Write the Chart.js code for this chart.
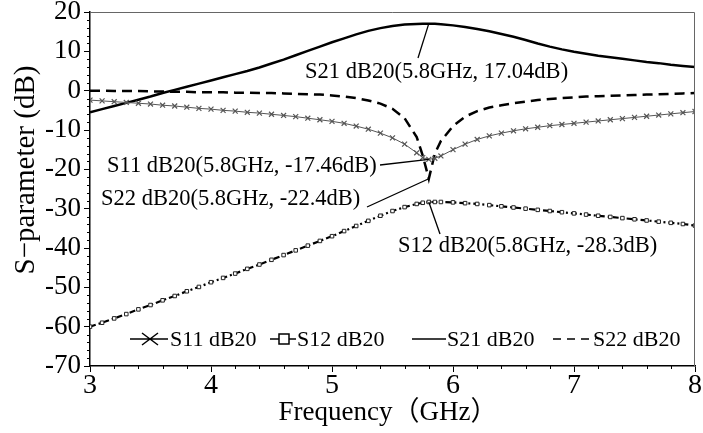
<!DOCTYPE html>
<html>
<head>
<meta charset="utf-8">
<script src="https://cdn.jsdelivr.net/npm/chart.js@4/dist/chart.umd.min.js"></script>
<style>
  html, body { margin: 0; padding: 0; background: #fff; }
  #sChart { display: block; }
</style>
</head>
<body>
<canvas id="sChart" width="703" height="433"></canvas>
<script>
// frequency points (GHz)
const freqs = [3.0, 3.1, 3.2, 3.3, 3.4, 3.5, 3.6, 3.7, 3.8, 3.9,
  4.0, 4.1, 4.2, 4.3, 4.4, 4.5, 4.6, 4.7, 4.8, 4.9,
  5.0, 5.1, 5.2, 5.3, 5.4, 5.5, 5.6, 5.7, 5.75, 5.8, 5.85,
  5.9, 6.0, 6.1, 6.2, 6.3, 6.4, 6.5, 6.6, 6.7, 6.8,
  6.9, 7.0, 7.1, 7.2, 7.3, 7.4, 7.5, 7.6, 7.7, 7.8,
  7.9, 8.0];

const s11 = [-2.4, -2.6, -2.8, -3.0, -3.2, -3.4, -3.7, -3.9, -4.2, -4.5,
  -4.7, -5.0, -5.2, -5.5, -5.7, -6.0, -6.3, -6.6, -7.0, -7.4,
  -7.8, -8.3, -9.0, -9.8, -10.8, -12.0, -13.6, -15.8, -17.0, -17.46, -17.2,
  -16.6, -15.0, -13.6, -12.4, -11.5, -10.8, -10.2, -9.7, -9.3, -8.9,
  -8.6, -8.3, -8.0, -7.7, -7.4, -7.1, -6.8, -6.5, -6.2, -5.9,
  -5.6, -5.3];

const s12 = [-60.0, -59.0, -57.9, -56.8, -55.6, -54.5, -53.3, -52.2, -51.0, -49.9,
  -48.7, -47.6, -46.5, -45.3, -44.2, -43.0, -41.8, -40.6, -39.4, -38.2,
  -37.0, -35.7, -34.4, -33.1, -31.8, -30.6, -29.6, -28.8, -28.5, -28.3, -28.3,
  -28.3, -28.4, -28.6, -28.8, -29.1, -29.4, -29.7, -30.0, -30.3, -30.6,
  -30.9, -31.2, -31.5, -31.8, -32.1, -32.4, -32.7, -33.0, -33.3, -33.6,
  -33.9, -34.3];

const s21 = [-5.5, -4.7, -3.9, -3.1, -2.3, -1.5, -0.6, 0.2, 1.0, 1.8,
  2.6, 3.4, 4.2, 5.0, 5.9, 6.9, 7.9, 9.0, 10.1, 11.2,
  12.3, 13.3, 14.3, 15.2, 15.9, 16.45, 16.8, 16.98, 17.03, 17.04, 17.02,
  16.9, 16.6, 16.2, 15.7, 15.1, 14.4, 13.7, 12.9, 12.0, 11.2,
  10.5, 9.9, 9.4, 8.9, 8.5, 8.1, 7.7, 7.3, 7.0, 6.6,
  6.3, 6.0];

const s22 = [0.0, 0.0, -0.1, -0.1, -0.1, -0.2, -0.2, -0.3, -0.3, -0.4,
  -0.4, -0.4, -0.5, -0.5, -0.6, -0.6, -0.7, -0.8, -0.9, -1.0,
  -1.2, -1.5, -1.9, -2.5, -3.3, -4.6, -7.0, -11.8, -16.5, -22.4, -16.0,
  -12.8, -9.0, -6.6, -5.2, -4.3, -3.7, -3.2, -2.8, -2.4, -2.1,
  -1.9, -1.7, -1.5, -1.4, -1.3, -1.2, -1.1, -1.0, -0.9, -0.8,
  -0.7, -0.6];

const seriesNames = ['S11 dB20', 'S12 dB20', 'S21 dB20', 'S22 dB20'];
const markFreq = 5.8;

const xTicks = [3, 4, 5, 6, 7, 8];
const yTicks = [-70, -60, -50, -40, -30, -20, -10, 0, 10, 20];

const serif = '"Liberation Serif", "Times New Roman", "Noto Sans CJK SC", serif';

function toPoints(values) {
    return freqs.map((f, i) => ({ x: f, y: values[i] }));
}

// marker label placement (text anchor + leader line start)
const notes = [
    { name: seriesNames[2], values: s21, tx: 305, ty: 78, lx: 418, ly: 58 },
    { name: seriesNames[0], values: s11, tx: 107, ty: 172, lx: 380, ly: 165 },
    { name: seriesNames[3], values: s22, tx: 101, ty: 205, lx: 367, ly: 207 },
    { name: seriesNames[1], values: s12, tx: 398, ty: 252, lx: 440, ly: 234 }
];

const decorPlugin = {
    id: 'decor',
    afterDraw(chart) {
        const ctx = chart.ctx;
        const a = chart.chartArea;
        const xs = chart.scales.x;
        const ys = chart.scales.y;
        ctx.save();

        // top / right frame
        ctx.strokeStyle = '#666';
        ctx.lineWidth = 1;
        ctx.beginPath();
        ctx.moveTo(a.left, a.top + 0.5);
        ctx.lineTo(a.right - 0.5, a.top + 0.5);
        ctx.lineTo(a.right - 0.5, a.bottom);
        ctx.stroke();

        // minor ticks
        ctx.strokeStyle = '#000';
        ctx.beginPath();
        for (let v = -70; v <= 20; v += 2) {
            if (v % 10 === 0) continue;
            const py = Math.round(ys.getPixelForValue(v)) + 0.5;
            ctx.moveTo(a.left - 3, py);
            ctx.lineTo(a.left, py);
        }
        for (let i = 0; i <= 25; i++) {
            if (i % 5 === 0) continue;
            const px = Math.round(xs.getPixelForValue(3 + i * 0.2)) + 0.5;
            ctx.moveTo(px, a.bottom);
            ctx.lineTo(px, a.bottom + 3);
        }
        ctx.stroke();

        // marker annotations
        const idx = freqs.indexOf(markFreq);
        ctx.fillStyle = '#000';
        ctx.font = '22.5px ' + serif;
        ctx.textAlign = 'left';
        ctx.textBaseline = 'alphabetic';
        notes.forEach(n => {
            const v = n.values[idx];
            const px = xs.getPixelForValue(markFreq);
            const py = ys.getPixelForValue(v);
            ctx.strokeStyle = '#000';
            ctx.lineWidth = 1.3;
            ctx.beginPath();
            ctx.moveTo(n.lx, n.ly);
            ctx.lineTo(px, py);
            ctx.stroke();
            ctx.fillText(n.name + '(' + markFreq + 'GHz, ' + v + 'dB)', n.tx, n.ty);
        });

        // legend inside plot
        const ly = 339;
        ctx.lineWidth = 1.5;
        ctx.strokeStyle = '#000';
        ctx.font = '22px ' + serif;
        ctx.textBaseline = 'middle';
        // S11
        ctx.beginPath();
        ctx.moveTo(130, ly); ctx.lineTo(168, ly);
        ctx.moveTo(142, ly - 6); ctx.lineTo(158, ly + 6);
        ctx.moveTo(142, ly + 6); ctx.lineTo(158, ly - 6);
        ctx.stroke();
        ctx.fillText(seriesNames[0], 170, ly + 1);
        // S12
        ctx.beginPath();
        ctx.moveTo(270, ly); ctx.lineTo(296, ly);
        ctx.stroke();
        ctx.fillStyle = '#fff';
        ctx.fillRect(279, ly - 5, 10, 10);
        ctx.strokeRect(279, ly - 5, 10, 10);
        ctx.fillStyle = '#000';
        ctx.fillText(seriesNames[1], 297, ly + 1);
        // S21
        ctx.beginPath();
        ctx.moveTo(412, ly); ctx.lineTo(446, ly);
        ctx.stroke();
        ctx.fillText(seriesNames[2], 447, ly + 1);
        // S22
        ctx.setLineDash([8, 6]);
        ctx.beginPath();
        ctx.moveTo(553, ly); ctx.lineTo(596, ly);
        ctx.stroke();
        ctx.setLineDash([]);
        ctx.fillText(seriesNames[3], 593, ly + 1);

        // axis titles
        ctx.font = '27px ' + serif;
        ctx.textAlign = 'center';
        ctx.textBaseline = 'middle';
        ctx.fillText('Frequency（GHz）', 388, 413);
        ctx.translate(26, 170);
        ctx.rotate(-Math.PI / 2);
        ctx.font = '29px ' + serif;
        ctx.fillText('S\u2212parameter (dB)', 0, 0);
        ctx.restore();
    }
};

const chart = new Chart(document.getElementById('sChart').getContext('2d'), {
    type: 'line',
    data: {
        datasets: [{
            label: seriesNames[0],
            data: toPoints(s11),
            borderColor: '#555',
            borderWidth: 1,
            pointStyle: 'crossRot',
            pointRadius: 3.5,
            pointBorderColor: '#555',
            pointBorderWidth: 1.2,
            tension: 0
        }, {
            label: seriesNames[1],
            data: toPoints(s12),
            borderColor: '#000',
            borderWidth: 2.2,
            borderDash: [6, 3, 2, 3],
            pointStyle: 'rect',
            pointRadius: 2.5,
            pointBackgroundColor: '#fff',
            pointBorderColor: '#222',
            pointBorderWidth: 1,
            tension: 0
        }, {
            label: seriesNames[2],
            data: toPoints(s21),
            borderColor: '#000',
            borderWidth: 2.5,
            pointRadius: 0,
            tension: 0
        }, {
            label: seriesNames[3],
            data: toPoints(s22),
            borderColor: '#000',
            borderWidth: 2.5,
            borderDash: [10, 6],
            pointRadius: 0,
            tension: 0
        }]
    },
    options: {
        responsive: false,
        animation: false,
        devicePixelRatio: 1,
        layout: { padding: { top: 12, right: 8, left: 0, bottom: 0 } },
        plugins: {
            legend: { display: false },
            tooltip: { enabled: false }
        },
        scales: {
            x: {
                type: 'linear',
                min: 3,
                max: 8,
                afterBuildTicks: scale => { scale.ticks = xTicks.map(v => ({ value: v })); },
                afterFit: scale => {
                    scale.height = 67;
                    scale.paddingLeft = 0; scale.paddingRight = 0;
                },
                ticks: {
                    color: '#000',
                    padding: 0,
                    font: { family: serif, size: 28, lineHeight: 1 }
                },
                grid: { drawOnChartArea: false, tickLength: 6, color: '#000', lineWidth: 1 },
                border: { color: '#000', width: 1.5 }
            },
            y: {
                min: -70,
                max: 20,
                afterBuildTicks: scale => { scale.ticks = yTicks.map(v => ({ value: v })); },
                afterFit: scale => {
                    scale.width = 90;
                    scale.paddingTop = 0; scale.paddingBottom = 0;
                },
                ticks: {
                    color: '#000',
                    padding: 3,
                    font: { family: serif, size: 27, lineHeight: 1 }
                },
                grid: { drawOnChartArea: false, tickLength: 6, color: '#000', lineWidth: 1 },
                border: { color: '#000', width: 1.5 }
            }
        }
    },
    plugins: [decorPlugin]
});
</script>
</body>
</html>
